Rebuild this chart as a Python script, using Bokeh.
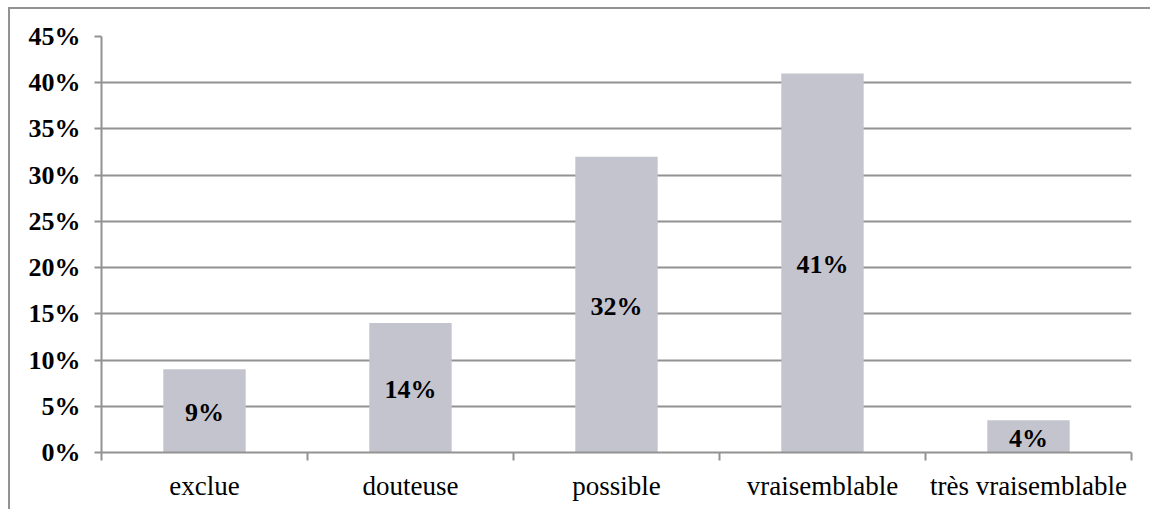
from bokeh.plotting import figure
from bokeh.models import ColumnDataSource, FixedTicker, Range1d
from bokeh.core.properties import value
from bokeh.embed import file_html
from bokeh.resources import INLINE

# Distribution of answers
categories = ["exclue", "douteuse", "possible", "vraisemblable", "très vraisemblable"]
shares = [9, 14, 32, 41, 3.5]
y_ticks = [0, 5, 10, 15, 20, 25, 30, 35, 40, 45]

FONT = "'Times New Roman', 'Liberation Serif', Tinos, serif"
GRID = "#929292"
BAR = "#C4C4CE"

# the canvas sits inside a framed box starting at (10, 9) of the page
OX, OY = 10, 9

xs = [i + 0.5 for i in range(len(categories))]
labels = [f"{v:.0f}%" for v in shares]
source = ColumnDataSource(data=dict(x=xs, top=shares, mid=[v / 2 for v in shares], label=labels))

p = figure(width=1152 - OX, height=511 - OY, output_backend="svg", toolbar_location=None,
           x_range=Range1d(0, len(categories)), y_range=Range1d(0, 45),
           min_border_left=101 - OX, min_border_right=21, min_border_top=36 - OY,
           min_border_bottom=59)
p.margin = (OY - 2, 0, 0, OX - 2)
p.styles = {"border-left": f"2px solid {GRID}", "border-top": f"2px solid {GRID}"}
p.outline_line_color = None
p.background_fill_color = "white"
p.border_fill_color = "white"

p.vbar(x="x", top="top", bottom=0, width=0.4, source=source, fill_color=BAR, line_color=None)
p.text(x="x", y="mid", text="label", source=source, text_align="center", text_baseline="middle",
       y_offset=2, text_font=value(FONT), text_font_style="bold", text_font_size="26px",
       text_color="black")

# y axis
p.yaxis.ticker = FixedTicker(ticks=y_ticks)
p.yaxis.major_label_overrides = {t: f"{t}%" for t in y_ticks}
p.yaxis.major_label_text_font = FONT
p.yaxis.major_label_text_font_style = "bold"
p.yaxis.major_label_text_font_size = "26px"
p.yaxis.major_label_text_color = "black"
p.yaxis.major_label_standoff = 14
p.yaxis.axis_line_color = GRID
p.yaxis.axis_line_width = 2
p.yaxis.major_tick_line_color = GRID
p.yaxis.major_tick_line_width = 2
p.yaxis.major_tick_in = 0
p.yaxis.major_tick_out = 7
p.yaxis.minor_tick_line_color = None

# x axis: labels at category centres, ticks on category boundaries
p.xaxis.ticker = FixedTicker(ticks=xs, minor_ticks=list(range(len(categories) + 1)))
p.xaxis.major_label_overrides = {x: c for x, c in zip(xs, categories)}
p.xaxis.major_label_text_font = FONT
p.xaxis.major_label_text_font_size = "27px"
p.xaxis.major_label_text_color = "black"
p.xaxis.major_label_standoff = 10
p.xaxis.axis_line_color = GRID
p.xaxis.axis_line_width = 2
p.xaxis.major_tick_line_color = None
p.xaxis.minor_tick_line_color = GRID
p.xaxis.minor_tick_line_width = 2
p.xaxis.minor_tick_in = 0
p.xaxis.minor_tick_out = 8

p.xgrid.grid_line_color = None
p.ygrid.ticker = FixedTicker(ticks=y_ticks)
p.ygrid.grid_line_color = GRID
p.ygrid.grid_line_width = 2

open("out.html", "w").write(file_html(p, INLINE))
